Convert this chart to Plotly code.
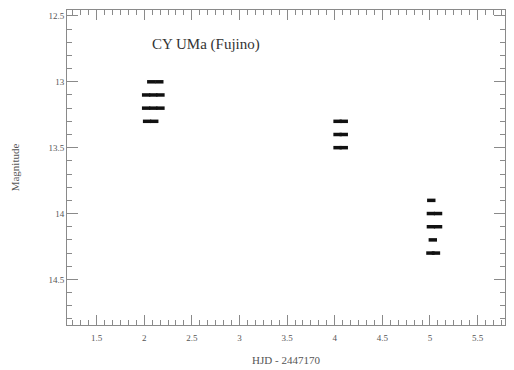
import plotly.graph_objects as go

# Observations: HJD - 2447170 and magnitude
hjd = [2.074, 2.158,
       2.02, 2.095, 2.17,
       2.02, 2.095, 2.17,
       2.03, 2.105,
       4.03, 4.095,
       4.03, 4.095,
       4.03, 4.095,
       5.014,
       5.01, 5.085,
       5.01, 5.085,
       5.03,
       5.005, 5.063]
mag = [13.0, 13.0,
       13.1, 13.1, 13.1,
       13.2, 13.2, 13.2,
       13.3, 13.3,
       13.3, 13.3,
       13.4, 13.4,
       13.5, 13.5,
       13.9,
       14.0, 14.0,
       14.1, 14.1,
       14.2,
       14.3, 14.3]

x_ticks = [1.5, 2, 2.5, 3, 3.5, 4, 4.5, 5, 5.5]
x_tick_labels = ["1.5", "2", "2.5", "3", "3.5", "4", "4.5", "5", "5.5"]
y_ticks = [12.5, 13, 13.5, 14, 14.5]
y_tick_labels = ["12.5", "13", "13.5", "14", "14.5"]

title_text = "CY UMa (Fujino)"
x_title = "HJD - 2447170"
y_title = "Magnitude"

axis_col = "#8a8a8a"
text_col = "#555555"
font_fam = "Liberation Serif, Times New Roman, serif"
y_range = [14.846, 12.455]

fig = go.Figure()
fig.add_trace(go.Scatter(
    x=hjd, y=mag, mode="markers",
    marker=dict(symbol="line-ew", size=6, line=dict(width=3.5, color="#111111")),
    showlegend=False, hoverinfo="x+y",
))

fig.add_annotation(x=2.06, y=12.72, xref="x", yref="y", text=title_text,
                   showarrow=False, xanchor="left", yanchor="middle",
                   font=dict(family=font_fam, size=15, color="#333333"))

fig.update_xaxes(
    range=[1.189, 5.788], tickvals=x_ticks, ticktext=x_tick_labels,
    ticks="inside", ticklen=10, tickwidth=1, tickcolor=axis_col,
    showline=True, linecolor=axis_col, linewidth=1, mirror="allticks",
    showgrid=False, zeroline=False, automargin=False,
    ticklabelstandoff=4,
    minor=dict(dtick=0.5/6, tick0=1.5, ticks="inside", ticklen=5, tickcolor=axis_col, showgrid=False),
    tickfont=dict(family=font_fam, size=9, color=text_col),
    title=dict(text=x_title, font=dict(family=font_fam, size=11, color=text_col), standoff=14),
)
fig.update_yaxes(
    range=y_range, tickvals=y_ticks, ticktext=y_tick_labels,
    ticks="inside", ticklen=11, tickwidth=1, tickcolor=axis_col,
    showline=True, linecolor=axis_col, linewidth=1, mirror="allticks",
    showgrid=False, zeroline=False, automargin=False,
    minor=dict(dtick=0.1, tick0=12.5, ticks="inside", ticklen=5, tickcolor=axis_col, showgrid=False),
    tickfont=dict(family=font_fam, size=9, color=text_col),
    title=dict(text=y_title, font=dict(family=font_fam, size=11, color=text_col), standoff=26),
)

# page body has an 8px default margin; shrink figure so the plot lands where the reference has it
fig.update_layout(
    width=506, height=362,
    margin=dict(l=59, r=9, t=2, b=45),
    paper_bgcolor="white", plot_bgcolor="white",
    yaxis2=dict(
        overlaying="y", side="right", range=y_range, tickvals=y_ticks,
        showticklabels=False, ticks="inside", ticklen=11, tickcolor=axis_col,
        showline=False, showgrid=False, zeroline=False, automargin=False,
        minor=dict(dtick=0.1, tick0=12.5, ticks="inside", ticklen=5, tickcolor=axis_col, showgrid=False),
    ),
)

fig.write_html("out.html")
